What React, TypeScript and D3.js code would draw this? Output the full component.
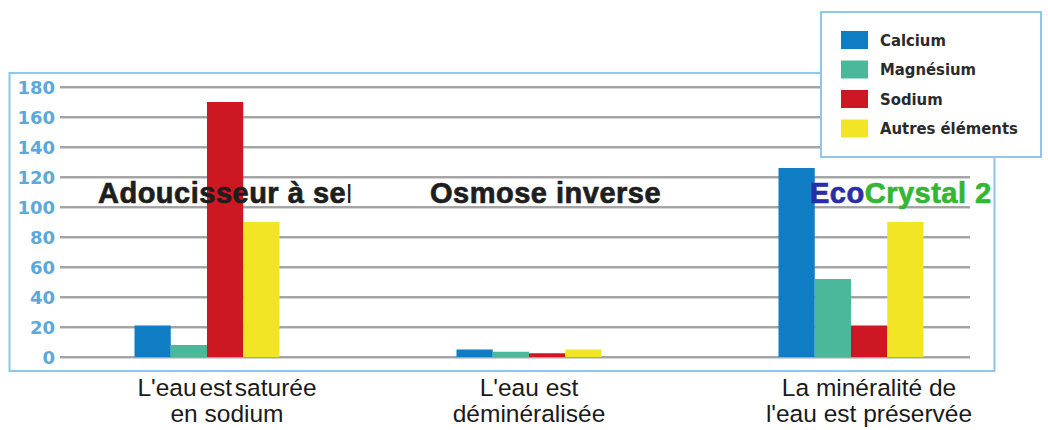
import React from "react";
import * as d3 from "d3";

const categories = ["L'eau est saturée|en sodium", "L'eau est|déminéralisée", "La minéralité de|l'eau est préservée"];
const seriesNames = ["Calcium", "Magnésium", "Sodium", "Autres éléments"];
const seriesColors = ["#0f7dc3", "#4bb79b", "#cd1722", "#f1e526"];
const calcium = [21, 5, 126];
const magnesium = [8, 3.5, 52];
const sodium = [170, 2.5, 21];
const autres = [90, 5, 90];
const yTicks = [0, 20, 40, 60, 80, 100, 120, 140, 160, 180];

const W = 1048, H = 430;

export default function App() {
  const values = [calcium, magnesium, sodium, autres];
  const y = d3.scaleLinear().domain([0, 180]).range([357, 87]);
  const x0 = d3.scaleBand<number>().domain([0, 1, 2]).range([46, 1012]).paddingInner(0).paddingOuter(0);
  const x1 = d3.scaleBand<number>().domain([0, 1, 2, 3]).range([0, 145]);
  const off = (x0.bandwidth() - 145) / 2;
  const tickColor = "#5aa8dc";
  const frameColor = "#8dc7ea";
  return (
    <div style={{ position: "absolute", left: 0, top: 0 }}>
      <svg width={W} height={H} style={{ display: "block" }}>
        <rect x={0} y={0} width={W} height={H} fill="#fff" />
        <rect x={9.5} y={73} width={985} height={298} fill="none" stroke={frameColor} strokeWidth={2} />
        {yTicks.map((t) => (
          <g key={t}>
            <line x1={60} x2={970} y1={y(t) + 1.2} y2={y(t) + 1.2} stroke="#d4d4d4" strokeWidth={1.5} />
            <line x1={60} x2={970} y1={y(t)} y2={y(t)} stroke="#8a8a8a" strokeWidth={1.4} />
            <text x={55} y={y(t) + 6.5} textAnchor="end" fill={tickColor} fontFamily="DejaVu Sans" fontWeight="bold" fontSize={18}>{t}</text>
          </g>
        ))}
        {categories.map((c, i) => (
          <g key={c} transform={`translate(${(x0(i) as number) + off},0)`}>
            {values.map((s, k) => (
              <rect key={k} x={x1(k)} y={y(s[i])} width={x1.bandwidth()} height={y(0) - y(s[i])} fill={seriesColors[k]} />
            ))}
          </g>
        ))}
        {categories.map((c, i) => {
          const cx = (x0(i) as number) + x0.bandwidth() / 2 + (i === 0 ? 20 : i === 2 ? 18 : 0);
          const lines = c.split("|");
          return (
            <text key={c} x={cx} textAnchor="middle" fill="#1a1a1a" fontFamily="Liberation Sans, Arial" fontSize={24.5}>
              <tspan x={cx} y={396} wordSpacing={i === 0 ? -4 : 0}>{lines[0]}</tspan>
              <tspan x={cx} y={422}>{lines[1]}</tspan>
            </text>
          );
        })}
        <g fontFamily="Liberation Sans, Arial" fontWeight="bold" fontSize={29} fill="#1e1e1e" stroke="#1e1e1e" strokeWidth={0.7} letterSpacing={0.5}>
          <text x={98} y={203}>Adoucisseur à se<tspan fontWeight="normal" fontSize={26} strokeWidth={0}>l</tspan></text>
          <text x={430} y={203}>Osmose inverse</text>
          <text x={810} y={203}><tspan fill="#2a2ea6" stroke="#2a2ea6">Eco</tspan><tspan fill="#34b534" stroke="#34b534">Crystal 2</tspan></text>
        </g>
        <rect x={821} y={12} width={220} height={145} fill="#fff" stroke={frameColor} strokeWidth={2} />
        {seriesNames.map((n, k) => (
          <g key={n} transform={`translate(841,${31 + k * 29.5})`}>
            <rect x={0} y={0} width={27} height={18} fill={seriesColors[k]} />
            <text x={39} y={14.5} fontFamily="DejaVu Sans Condensed, DejaVu Sans" fontWeight="bold" fontSize={16.5} fill="#2a2a2a">{n}</text>
          </g>
        ))}
      </svg>
    </div>
  );
}
